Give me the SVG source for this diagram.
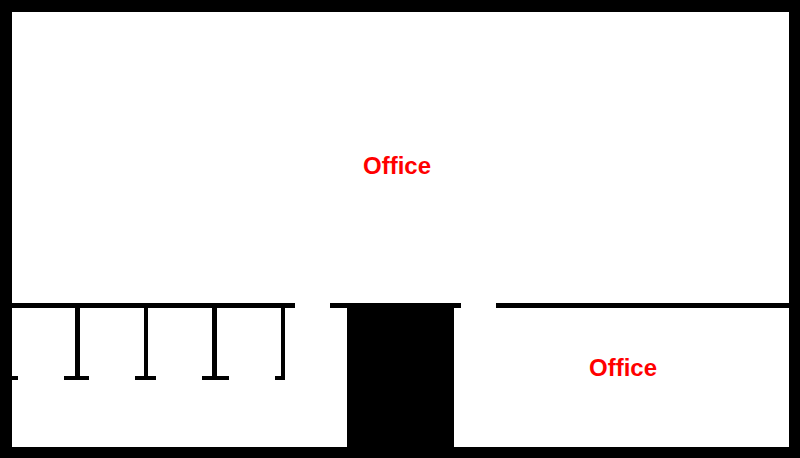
<svg xmlns="http://www.w3.org/2000/svg" width="800" height="458" viewBox="0 0 800 458"><style>.w{fill:#000}.t{font-family:"Liberation Sans",Arial,sans-serif;font-weight:700;font-size:24px;fill:#f00;text-anchor:middle}</style><rect width="800" height="458" fill="#fff"/><g class="w"><rect width="800" height="12"/><rect y="447" width="800" height="11"/><rect width="12" height="458"/><rect x="789" width="11" height="458"/><rect x="12" y="303" width="283" height="5"/><rect x="330" y="303" width="131" height="5"/><rect x="496" y="303" width="293" height="5"/><rect x="347" y="308" width="107" height="139"/><rect x="75" y="308" width="5" height="70"/><rect x="144" y="308" width="4" height="70"/><rect x="212" y="308" width="5" height="70"/><rect x="281" y="308" width="4" height="70"/><rect x="12" y="376" width="6" height="4"/><rect x="64" y="376" width="25" height="4"/><rect x="135" y="376" width="21" height="4"/><rect x="202" y="376" width="27" height="4"/><rect x="275" y="376" width="10" height="4"/></g><text class="t" x="397" y="174">Office</text><text class="t" x="623" y="376">Office</text></svg>
